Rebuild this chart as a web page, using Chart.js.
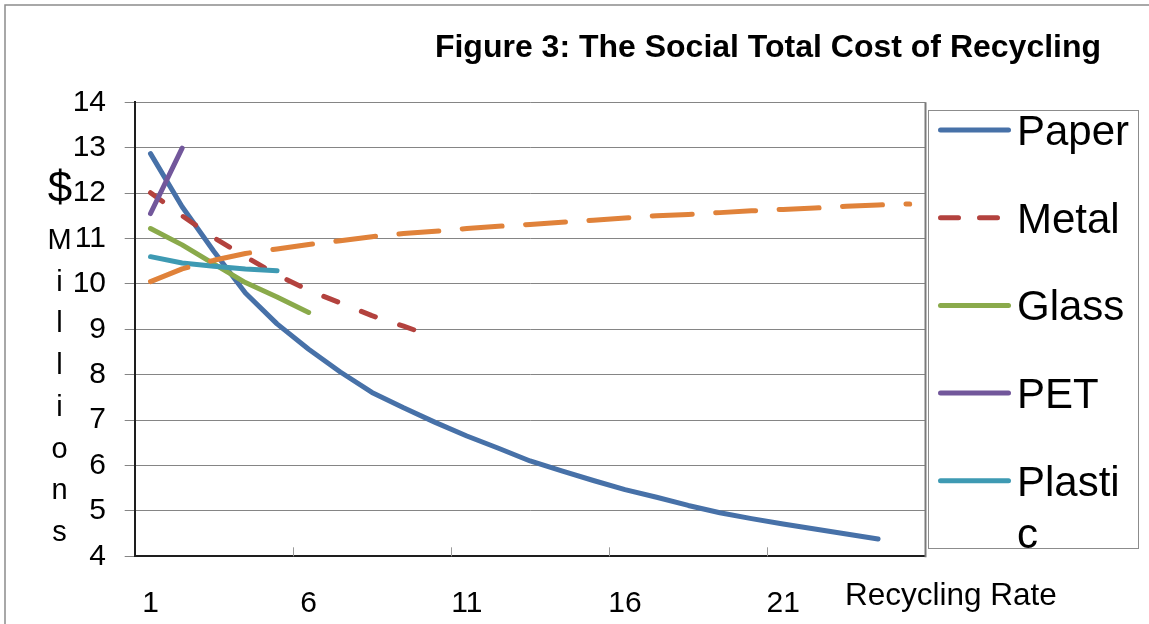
<!DOCTYPE html>
<html>
<head>
<meta charset="utf-8">
<title>Figure 3: The Social Total Cost of Recycling</title>
<script src="https://cdn.jsdelivr.net/npm/chart.js@4.4.1/dist/chart.umd.min.js"></script>
<style>
  html, body { margin: 0; padding: 0; background: #ffffff; }
  #wrap { position: relative; width: 1149px; height: 624px; }
</style>
</head>
<body>
<div id="wrap"><canvas id="chart" width="1149" height="624"></canvas></div>
<script>
// Recycling rate categories (x axis)
const categories = ['1','2','3','4','5','6','7','8','9','10','11','12','13','14','15','16','17','18','19','20','21','22','23','24','25'];

// Social total cost, $ millions
const paper   = [12.87, 11.70, 10.72, 9.80, 9.12, 8.56, 8.06, 7.61, 7.27, 6.95, 6.65, 6.38, 6.10, 5.88, 5.67, 5.47, 5.30, 5.12, 4.96, 4.83, 4.71, 4.60, 4.49, 4.38];
const metal   = [12.01, 11.50, 11.02, 10.60, 10.20, 9.86, 9.58, 9.30, 9.07, 8.82];
const glass   = [11.22, 10.86, 10.44, 10.03, 9.71, 9.37];
const pet     = [11.55, 12.99];
const plastic = [10.60, 10.46, 10.39, 10.33, 10.29];
const series6 = [10.05, 10.33, 10.52, 10.67, 10.77, 10.87, 10.95, 11.04, 11.11, 11.16, 11.22, 11.27, 11.31, 11.36, 11.40, 11.45, 11.50, 11.53, 11.57, 11.61, 11.64, 11.67, 11.71, 11.74, 11.76];

// Y axis range and tick step
const yMin = 4, yMax = 14, yStep = 1;

// Texts
const titleText = 'Figure 3: The Social Total Cost of Recycling';
const xTitleText = 'Recycling Rate';
const yTitleSymbol = '$';
const yTitleWord = 'Millions';
const legendSeries = ['Paper', 'Metal', 'Glass', 'PET', 'Plastic'];

const FONT = '"Liberation Sans", Arial, Helvetica, sans-serif';

const colors = {
  Paper: '#4771A8',
  Metal: '#B3423E',
  Glass: '#8AAA4B',
  PET: '#72579B',
  Plastic: '#3E9AB3',
  Series6: '#E0823A'
};
const dashes = { Metal: [15, 25.5], Series6: [40, 23.5] };
const legendDashes = { Metal: [18, 21] };

function makeSet(label, values, order) {
  return {
    label: label,
    data: values,
    borderColor: colors[label],
    backgroundColor: colors[label],
    borderWidth: 5,
    borderDash: dashes[label] || [],
    borderCapStyle: 'round',
    borderJoinStyle: 'round',
    pointRadius: 0,
    pointHoverRadius: 0,
    tension: 0,
    fill: false,
    order: order
  };
}

// Frame, titles, custom legend and inner tick marks
const figureDecor = {
  id: 'figureDecor',
  beforeDraw(chart) {
    const ctx = chart.ctx;
    ctx.save();
    ctx.fillStyle = '#ffffff';
    ctx.fillRect(0, 0, chart.width, chart.height);
    ctx.strokeStyle = '#8c8c8c';
    ctx.lineWidth = 1.5;
    ctx.strokeRect(5, 5, 1400, 900);
    ctx.restore();
  },
  afterDraw(chart) {
    const ctx = chart.ctx;
    const area = chart.chartArea;
    const xs = chart.scales.x;
    ctx.save();

    // right edge of the plot area
    ctx.strokeStyle = '#7a7a7a';
    ctx.lineWidth = 2;
    ctx.beginPath();
    ctx.moveTo(area.right, area.top);
    ctx.lineTo(area.right, area.bottom + 1);
    ctx.stroke();

    // inner tick marks every five categories
    ctx.strokeStyle = '#9a9a9a';
    ctx.lineWidth = 1;
    for (let i = 5; i < categories.length; i += 5) {
      const px = Math.round((xs.getPixelForValue(i - 1) + xs.getPixelForValue(i)) / 2) + 0.5;
      ctx.beginPath();
      ctx.moveTo(px, area.bottom - 9);
      ctx.lineTo(px, area.bottom);
      ctx.stroke();
    }

    // chart title
    ctx.fillStyle = '#000000';
    ctx.font = 'bold 32px ' + FONT;
    ctx.textAlign = 'center';
    ctx.textBaseline = 'alphabetic';
    ctx.fillText(titleText, 768, 57);

    // vertical axis title, one letter per line
    ctx.font = '44px ' + FONT;
    ctx.fillText(yTitleSymbol, 60, 202);
    ctx.font = '29px ' + FONT;
    yTitleWord.split('').forEach((ch, k) => {
      ctx.fillText(ch, 59.5, 249 + k * 41.7);
    });

    // horizontal axis title
    ctx.font = '31.5px ' + FONT;
    ctx.textAlign = 'left';
    ctx.fillText(xTitleText, 845, 605);

    // legend box
    const box = { left: 928.5, top: 110.5, right: 1138.5, bottom: 548.5 };
    ctx.strokeStyle = '#8c8c8c';
    ctx.lineWidth = 1;
    ctx.strokeRect(box.left, box.top, box.right - box.left, box.bottom - box.top);

    ctx.font = '42px ' + FONT;
    const textX = 1017;
    const maxW = box.right - textX - 4;
    legendSeries.forEach((name, idx) => {
      const ds = chart.data.datasets.find(d => d.label === name);
      const cy = 130 + idx * 87.7;
      ctx.strokeStyle = ds.borderColor;
      ctx.lineWidth = 5;
      ctx.lineCap = 'round';
      ctx.setLineDash(legendDashes[name] || []);
      ctx.beginPath();
      ctx.moveTo(940.5, cy);
      ctx.lineTo(1008.5, cy);
      ctx.stroke();
      ctx.setLineDash([]);

      // wrap the label by characters to the box width
      const lines = [];
      let cur = '';
      for (const ch of name) {
        if (cur && ctx.measureText(cur + ch).width > maxW) { lines.push(cur); cur = ch; }
        else cur += ch;
      }
      lines.push(cur);
      ctx.fillStyle = '#000000';
      ctx.textAlign = 'left';
      lines.forEach((ln, j) => ctx.fillText(ln, textX, cy + 15 + j * 52));
    });

    ctx.restore();
  }
};

new Chart(document.getElementById('chart'), {
  type: 'line',
  data: {
    labels: categories,
    datasets: [
      makeSet('Paper', paper, 6),
      makeSet('Metal', metal, 5),
      makeSet('Glass', glass, 4),
      makeSet('PET', pet, 3),
      makeSet('Plastic', plastic, 2),
      makeSet('Series6', series6, 1)
    ]
  },
  options: {
    responsive: false,
    animation: false,
    devicePixelRatio: 1,
    events: [],
    layout: { padding: { top: 102.3, right: 223.5, left: 0, bottom: 0 } },
    plugins: {
      legend: { display: false },
      title: { display: false },
      tooltip: { enabled: false }
    },
    scales: {
      x: {
        type: 'category',
        offset: true,
        afterFit(scale) { scale.height = 624 - 556.3; },
        grid: { display: false, drawTicks: false },
        border: { display: true, color: '#1e1e1e', width: 2 },
        ticks: {
          autoSkip: false,
          maxRotation: 0,
          minRotation: 0,
          padding: 29.4,
          color: '#000000',
          font: { family: FONT, size: 30 },
          callback: (val, idx) => (idx % 5 === 0 ? categories[idx] : '')
        }
      },
      y: {
        min: yMin,
        max: yMax,
        afterFit(scale) { scale.width = 134.7; },
        grid: { color: '#858585', lineWidth: 1, tickLength: 10, drawTicks: true },
        border: { display: true, color: '#1e1e1e', width: 2 },
        ticks: {
          stepSize: yStep,
          padding: 18.7,
          color: '#000000',
          font: { family: FONT, size: 30 }
        }
      }
    }
  },
  plugins: [figureDecor]
});
</script>
</body>
</html>
